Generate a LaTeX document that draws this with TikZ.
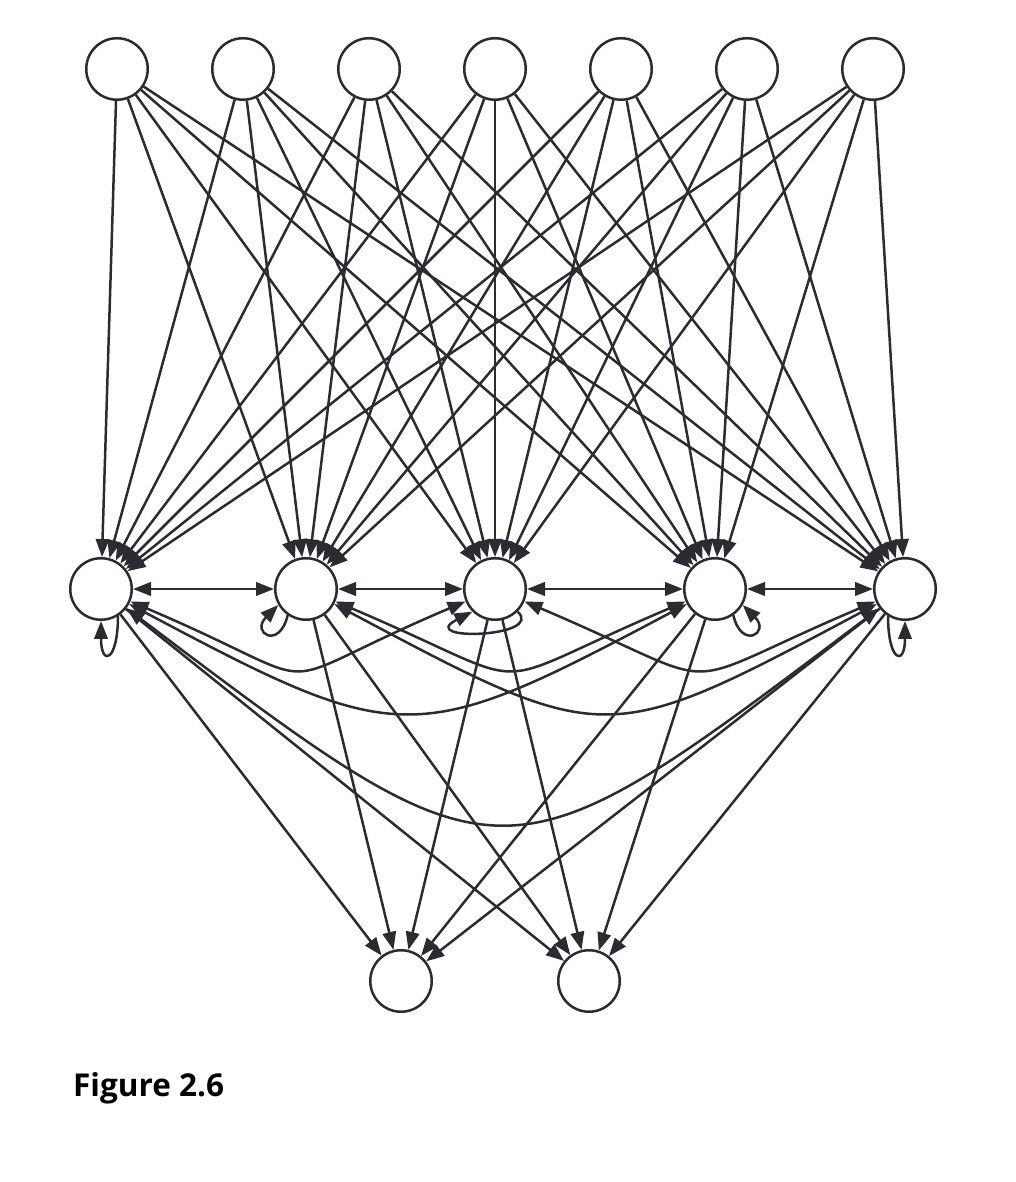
\documentclass[tikz,border=0pt]{standalone}
\usepackage{fontspec}
\newfontfamily\figfont{Open Sans}
\usetikzlibrary{arrows.meta,calc}
\definecolor{ink}{RGB}{43,44,50}
\begin{document}
\begin{tikzpicture}[x=1pt,y=1pt,
  neuron/.style={circle,draw=ink,line width=2.5pt,fill=white,minimum size=61.5pt,inner sep=0pt},
  conn/.style={draw=ink,line width=2.5pt},
  arr/.style={conn,-{Triangle[length=18pt,width=13.5pt]}},
  biarr/.style={conn,{Triangle[length=18pt,width=13.5pt]}-{Triangle[length=18pt,width=13.5pt]}}
]
\useasboundingbox (0,0) rectangle (1016,1182);
% nodes
\foreach \x [count=\i] in {117,243,369,495,621,747,873} \node[neuron] (t\i) at (\x,1113) {};
\foreach \x [count=\i] in {101,306,495,715,905} \node[neuron] (h\i) at (\x,593) {};
\node[neuron] (o1) at (401,201) {};
\node[neuron] (o2) at (589,201) {};
% input -> hidden
\foreach \i in {1,...,7} \foreach \j in {1,...,5} \draw[arr] (t\i) -- (h\j);
% hidden -> output
\foreach \j in {1,...,5} \foreach \k in {1,2} \draw[arr] (h\j) -- (o\k);
% hidden <-> hidden (adjacent)
\foreach \a/\b in {1/2,2/3,3/4,4/5} \draw[biarr] (h\a) -- (h\b);
% hidden <-> hidden (curved)
\foreach \a/\b in {1/3,2/4,3/5}
  \draw[biarr] (h\a) .. controls ($(h\a)+(-23:265pt)$) and ($(h\b)+(-157:265pt)$) .. (h\b);
\foreach \a/\b in {1/4,2/5}
  \draw[biarr] (h\a) .. controls ($(h\a)+(-28:340pt)$) and ($(h\b)+(-152:340pt)$) .. (h\b);
\draw[biarr] (h1) .. controls ($(h1)+(-37:508pt)$) and ($(h5)+(-143:508pt)$) .. (h5);
% self loops
\draw[arr] (h1.-58) .. controls +(0pt,-46pt) and +(0pt,-46pt) .. (h1.-90);
\draw[arr] (h5.-122) .. controls +(0pt,-46pt) and +(0pt,-46pt) .. (h5.-90);
\draw[arr] (h2.-125) .. controls +(-8pt,-35pt) and +(-28pt,-28pt) .. (h2.-150);
\draw[arr] (h4.-55) .. controls +(8pt,-35pt) and +(28pt,-28pt) .. (h4.-30);
\draw[arr] (h3.-45) .. controls +(28pt,-26pt) and +(-58pt,-30pt) .. (h3.-135);
% caption
\node[anchor=base west,inner sep=0pt,text=black,font=\figfont\bfseries\fontsize{31.5}{38}\selectfont] (cap) at (73,85) {Figure 2.6};
\end{tikzpicture}
\end{document}
